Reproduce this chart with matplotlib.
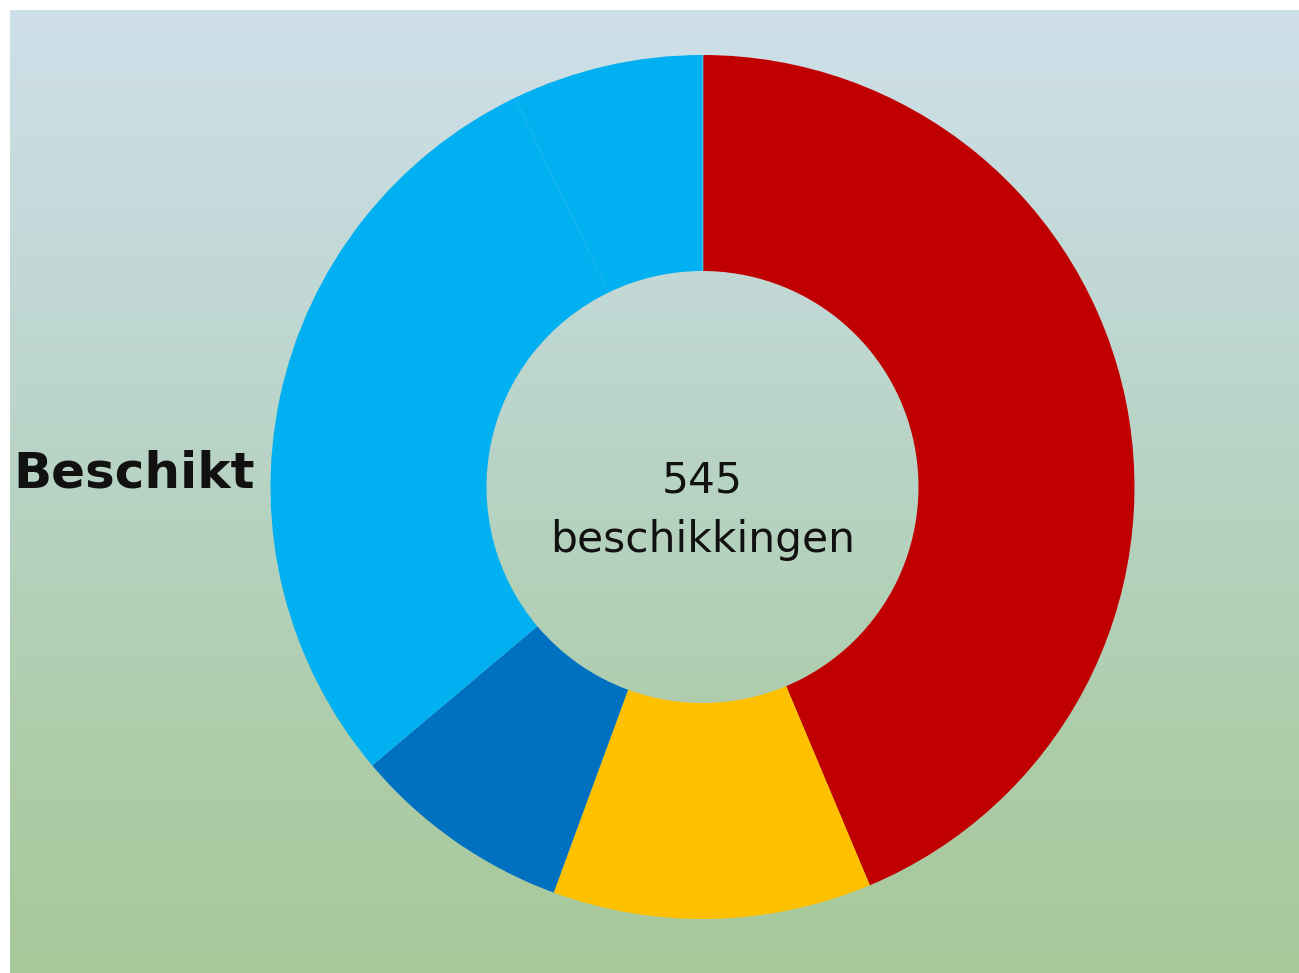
import numpy as np
import matplotlib
matplotlib.use("Agg")
import matplotlib.pyplot as plt
from matplotlib.colors import LinearSegmentedColormap

# Data
categories = ["Rood", "Geel", "Donkerblauw", "Lichtblauw", "Lichtblauw 2"]
values = [238, 65, 45, 158, 39]
colors = ["#c00000", "#ffc000", "#0070c0", "#00b0f0", "#00b0f0"]
center_total = "545"
center_label = "beschikkingen"
side_label = "Beschikt"

W, H = 1299, 973
fig = plt.figure(figsize=(W / 100, H / 100), dpi=100)
fig.patch.set_facecolor("white")

# Gradient background
bg = fig.add_axes([10 / W, 0, 1 - 10 / W, (H - 10) / H])
bg.axis("off")
cmap = LinearSegmentedColormap.from_list(
    "bg", ["#cfe0e9", "#c3d9d8", "#b7d3c3", "#aecdab", "#a7c899"])
grad = np.linspace(0, 1, 256).reshape(-1, 1)
bg.imshow(grad, aspect="auto", cmap=cmap, extent=[0, 1, 1, 0])
bg.set_xlim(0, 1)
bg.set_ylim(1, 0)

# Donut
cx, cy, r = 702.5, H - 487, 432
ax = fig.add_axes([(cx - r) / W, (cy - r) / H, 2 * r / W, 2 * r / H])
ax.set_facecolor("none")
wedges, _ = ax.pie(values, colors=colors, startangle=90, counterclock=False,
                   radius=1.0, wedgeprops=dict(width=0.5, linewidth=0))
ax.set_xlim(-1, 1)
ax.set_ylim(-1, 1)
ax.set_aspect("equal")
ax.axis("off")

# faint separator between the two light blue segments
ang = np.deg2rad(wedges[-1].theta1)
ax.plot([0.5 * np.cos(ang), 1.0 * np.cos(ang)],
        [0.5 * np.sin(ang), 1.0 * np.sin(ang)],
        color="#3fc3f3", linewidth=1.2, solid_capstyle="butt")

# Texts
ax.text(0, -0.012, center_total, ha="center", va="baseline", fontsize=30.5,
        family="DejaVu Sans", color="#111111")
ax.text(0, -0.150, center_label, ha="center", va="baseline", fontsize=30.5,
        family="DejaVu Sans", color="#111111")
fig.text(13 / W, (H - 487) / H, side_label, ha="left", va="baseline",
         fontsize=36, fontweight="bold", family="DejaVu Sans", color="#111111")

fig.savefig("out.png", dpi=100, facecolor=fig.get_facecolor())
